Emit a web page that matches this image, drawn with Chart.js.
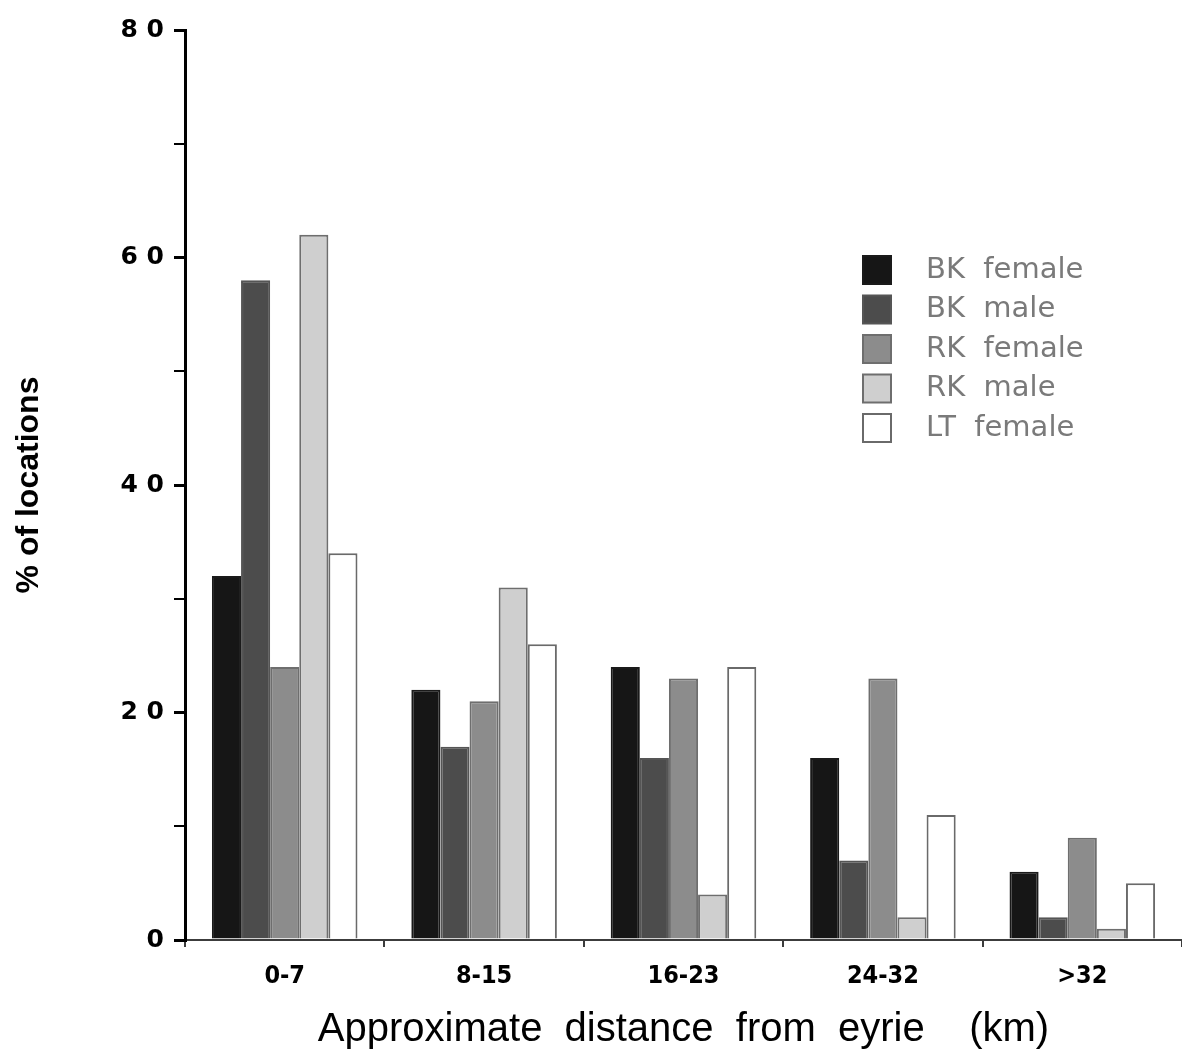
<!DOCTYPE html>
<html>
<head>
<meta charset="utf-8">
<script src="https://cdn.jsdelivr.net/npm/chart.js@4.4.0/dist/chart.umd.min.js"></script>
<style>
  body { margin: 0; background: #fff; }
  #wrap { width: 1182px; height: 1054px; }
</style>
</head>
<body>
<div id="wrap"><canvas id="chart" width="1182" height="1054"></canvas></div>
<script>
const categories = ["0-7", "8-15", "16-23", "24-32", ">32"];
const seriesNames = ["BK  female", "BK  male", "RK  female", "RK  male", "LT  female"];
const bkFemale = [32, 22, 24, 16, 6];
const bkMale = [58, 17, 16, 7, 2];
const rkFemale = [24, 21, 23, 23, 9];
const rkMale = [62, 31, 4, 2, 1];
const ltFemale = [34, 26, 24, 11, 5];

const fills = ["#161616", "#4c4c4c", "#8c8c8c", "#cfcfcf", "#ffffff"];
const borders = ["#1a1a1a", "#555555", "#6e6e6e", "#6e6e6e", "#6a6a6a"];

const values = [bkFemale, bkMale, rkFemale, rkMale, ltFemale];

// legend drawn inside the plot, like the original
const boxLegend = {
  id: "boxLegend",
  afterDraw(chart) {
    const ctx = chart.ctx;
    ctx.save();
    chart.data.datasets.forEach((ds, i) => {
      const y = 256 + i * 39.5;
      ctx.fillStyle = ds.backgroundColor;
      ctx.fillRect(863, y, 28, 28);
      ctx.strokeStyle = ds.borderColor;
      ctx.lineWidth = 2;
      ctx.strokeRect(863, y, 28, 28);
      ctx.fillStyle = "#7a7a7a";
      ctx.font = "29px 'DejaVu Sans'";
      ctx.textBaseline = "middle";
      ctx.fillText(ds.label, 926, y + 14);
    });
    ctx.restore();
  }
};

new Chart(document.getElementById("chart"), {
  type: "bar",
  plugins: [boxLegend],
  data: {
    labels: categories,
    datasets: values.map((v, i) => ({
      label: seriesNames[i],
      data: v,
      backgroundColor: fills[i],
      borderColor: borders[i],
      borderWidth: 2,
      borderSkipped: "bottom",
      categoryPercentage: 0.73,
      barPercentage: 1.0,
    })),
  },
  options: {
    responsive: false,
    animation: false,
    layout: { padding: { top: 30, right: 0, left: 0, bottom: 0 } },
    plugins: {
      legend: { display: false },
      tooltip: { enabled: false },
    },
    scales: {
      x: {
        offset: true,
        afterFit: (scale) => { scale.height = 114; },
        border: { color: "#3c3c3c", width: 2 },
        grid: {
          offset: true,
          drawOnChartArea: false,
          tickLength: 7,
          color: "#3c3c3c",
          lineWidth: 2,
        },
        ticks: {
          color: "#000",
          padding: 14,
          font: { family: "'Liberation Sans Narrow', 'DejaVu Sans Condensed', sans-serif", size: 25, weight: "bold" },
        },
        title: {
          display: true,
          text: "Approximate  distance  from  eyrie    (km)",
          color: "#000",
          padding: { top: 10, bottom: 0 },
          font: { family: "'Liberation Sans', Arial, sans-serif", size: 40 },
        },
      },
      y: {
        min: 0,
        max: 80,
        afterFit: (scale) => { scale.width = 185; },
        border: { color: "#000", width: 3 },
        grid: {
          drawOnChartArea: false,
          tickLength: 11,
          color: "#000",
          lineWidth: (c) => (c.tick && c.tick.value % 20 === 0 ? 3 : 2),
        },
        ticks: {
          stepSize: 10,
          color: "#000",
          padding: 10,
          font: { family: "'DejaVu Sans'", size: 25, weight: "bold" },
          callback: (v) => (v % 20 === 0 ? String(v).split("").join(" ") : ""),
        },
        title: {
          display: true,
          text: "% of locations",
          color: "#000",
          padding: { top: 10, bottom: 40 },
          font: { family: "'Liberation Sans', Arial, sans-serif", size: 32, weight: "bold" },
        },
      },
    },
  },
});
</script>
</body>
</html>
